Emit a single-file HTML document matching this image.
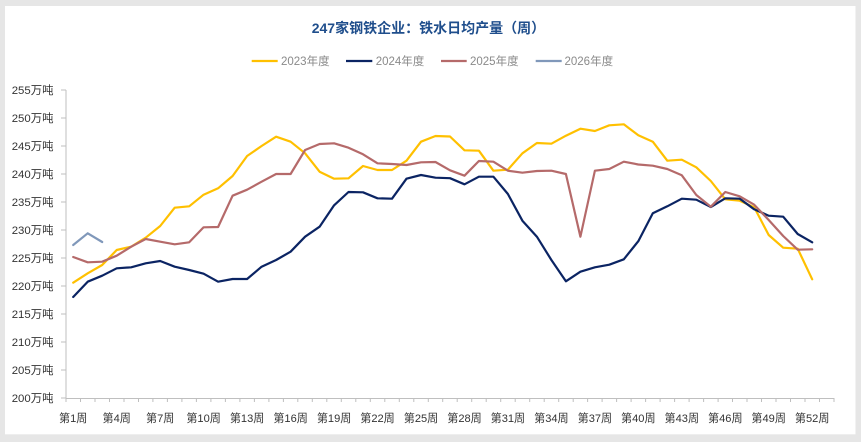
<!DOCTYPE html>
<html><head><meta charset="utf-8"><style>
html,body{margin:0;padding:0;background:#e6e6e6;}
svg{display:block;}
text{font-family:"Liberation Sans","Noto Sans CJK SC",sans-serif;}
</style></head><body>
<svg width="861" height="442" viewBox="0 0 861 442" xmlns="http://www.w3.org/2000/svg">
<rect x="0" y="0" width="861" height="442" fill="#e6e6e6"/>
<rect x="5" y="6" width="850.5" height="428.3" fill="#ffffff"/>
<text x="428.4" y="28" text-anchor="middle" dy="0.36em" font-size="14" font-weight="bold" fill="#1F4E8C">247家钢铁企业：铁水日均产量（周）</text>
<g font-size="11.5" fill="#8a8a8a">
<line x1="251.7" y1="61" x2="277.7" y2="61" stroke="#FFC000" stroke-width="2.2"/>
<text x="281" y="61" dy="0.36em">2023年度</text>
<line x1="346" y1="61" x2="372.3" y2="61" stroke="#0B2463" stroke-width="2.2"/>
<text x="375.7" y="61" dy="0.36em">2024年度</text>
<line x1="441" y1="61" x2="466.7" y2="61" stroke="#B56A6A" stroke-width="2.2"/>
<text x="470" y="61" dy="0.36em">2025年度</text>
<line x1="535.7" y1="61" x2="561.7" y2="61" stroke="#8098BA" stroke-width="2.2"/>
<text x="564.5" y="61" dy="0.36em">2026年度</text>
</g>
<g stroke="#bfbfbf" stroke-width="1" fill="none">
<line x1="66" y1="90" x2="66" y2="398.5"/>
<line x1="66" y1="398.5" x2="834" y2="398.5"/>
<path d="M61 90H66M61 118H66M61 146H66M61 174H66M61 202H66M61 230H66M61 258H66M61 286H66M61 314H66M61 342H66M61 370H66M61 398H66"/>
<path d="M66 398v4M80.5 398v4M95 398v4M109.5 398v4M124 398v4M138.5 398v4M152.9 398v4M167.4 398v4M181.9 398v4M196.4 398v4M210.9 398v4M225.4 398v4M239.9 398v4M254.4 398v4M268.9 398v4M283.4 398v4M297.8 398v4M312.3 398v4M326.8 398v4M341.3 398v4M355.8 398v4M370.3 398v4M384.8 398v4M399.3 398v4M413.8 398v4M428.3 398v4M442.7 398v4M457.2 398v4M471.7 398v4M486.2 398v4M500.7 398v4M515.2 398v4M529.7 398v4M544.2 398v4M558.7 398v4M573.2 398v4M587.6 398v4M602.1 398v4M616.6 398v4M631.1 398v4M645.6 398v4M660.1 398v4M674.6 398v4M689.1 398v4M703.6 398v4M718.1 398v4M732.5 398v4M747 398v4M761.5 398v4M776 398v4M790.5 398v4M805 398v4M819.5 398v4M834 398v4"/>
</g>
<g font-size="11.4" fill="#333333" text-anchor="end">
<text x="53.5" y="90" dy="0.36em">255万吨</text>
<text x="53.5" y="118" dy="0.36em">250万吨</text>
<text x="53.5" y="146" dy="0.36em">245万吨</text>
<text x="53.5" y="174" dy="0.36em">240万吨</text>
<text x="53.5" y="202" dy="0.36em">235万吨</text>
<text x="53.5" y="230" dy="0.36em">230万吨</text>
<text x="53.5" y="258" dy="0.36em">225万吨</text>
<text x="53.5" y="286" dy="0.36em">220万吨</text>
<text x="53.5" y="314" dy="0.36em">215万吨</text>
<text x="53.5" y="342" dy="0.36em">210万吨</text>
<text x="53.5" y="370" dy="0.36em">205万吨</text>
<text x="53.5" y="398" dy="0.36em">200万吨</text>
</g>
<g font-size="11.1" fill="#333333" text-anchor="middle">
<text x="73.2" y="418" dy="0.36em">第1周</text>
<text x="116.7" y="418" dy="0.36em">第4周</text>
<text x="160.2" y="418" dy="0.36em">第7周</text>
<text x="203.6" y="418" dy="0.36em">第10周</text>
<text x="247.1" y="418" dy="0.36em">第13周</text>
<text x="290.6" y="418" dy="0.36em">第16周</text>
<text x="334.1" y="418" dy="0.36em">第19周</text>
<text x="377.5" y="418" dy="0.36em">第22周</text>
<text x="421" y="418" dy="0.36em">第25周</text>
<text x="464.5" y="418" dy="0.36em">第28周</text>
<text x="507.9" y="418" dy="0.36em">第31周</text>
<text x="551.4" y="418" dy="0.36em">第34周</text>
<text x="594.9" y="418" dy="0.36em">第37周</text>
<text x="638.3" y="418" dy="0.36em">第40周</text>
<text x="681.8" y="418" dy="0.36em">第43周</text>
<text x="725.3" y="418" dy="0.36em">第46周</text>
<text x="768.7" y="418" dy="0.36em">第49周</text>
<text x="812.2" y="418" dy="0.36em">第52周</text>
</g>
<g fill="none" stroke-width="2.2" stroke-linejoin="round" stroke-linecap="round">
<polyline stroke="#FFC000" points="73.2,282.7 87.7,273.3 102.2,265 116.7,250 131.2,246.7 145.7,237.7 160.2,226 174.7,207.7 189.2,206.3 203.6,194.7 218.1,188.3 232.6,176 247.1,156 261.6,146 276.1,136.7 290.6,141.7 305.1,153.3 319.6,171.7 334.1,178.7 348.5,178.3 363,166 377.5,170 392,170 406.5,160.7 421,141.7 435.5,136 450,136.5 464.5,150.3 478.9,150.7 493.4,170.7 507.9,169.7 522.4,153.3 536.9,143 551.4,143.7 565.9,135.7 580.4,128.7 594.9,131 609.3,125.3 623.8,124.3 638.3,135.3 652.8,141.7 667.3,160.7 681.8,159.7 696.3,167.3 710.8,181 725.3,199.3 739.7,200.7 754.2,207.3 768.7,235 783.2,247.7 797.7,248.7 812.2,279.3"/>
<polyline stroke="#0B2463" points="73.2,297 87.7,281.7 102.2,275.7 116.7,268.3 131.2,267.3 145.7,263.3 160.2,261 174.7,266.7 189.2,270 203.6,273.7 218.1,281.7 232.6,279 247.1,279 261.6,266.7 276.1,260 290.6,251.7 305.1,236.7 319.6,226.7 334.1,205.3 348.5,192 363,192.3 377.5,198.3 392,198.7 406.5,178.7 421,175 435.5,177.7 450,178.2 464.5,184.3 478.9,176.7 493.4,176.7 507.9,194 522.4,220.7 536.9,236.7 551.4,260 565.9,281.3 580.4,271.7 594.9,267.3 609.3,264.7 623.8,259.3 638.3,241.2 652.8,213.3 667.3,206.3 681.8,198.7 696.3,199.7 710.8,207 725.3,198.3 739.7,198.7 754.2,209.3 768.7,215.7 783.2,216.7 797.7,234 812.2,242.3"/>
<polyline stroke="#B56A6A" points="73.2,257 87.7,262.3 102.2,261.7 116.7,255.7 131.2,246.7 145.7,239 160.2,241.7 174.7,244.3 189.2,242.3 203.6,227.3 218.1,227 232.6,195.7 247.1,189.7 261.6,181.7 276.1,174 290.6,174 305.1,150 319.6,144 334.1,143.3 348.5,147.7 363,154.3 377.5,163.3 392,164 406.5,165 421,162.3 435.5,162 450,170.3 464.5,175.7 478.9,161 493.4,161.7 507.9,170.7 522.4,172.7 536.9,171 551.4,170.7 565.9,174 580.4,236.7 594.9,170.7 609.3,169 623.8,161.7 638.3,164.5 652.8,165.7 667.3,169 681.8,175.3 696.3,195 710.8,206.7 725.3,192 739.7,196.3 754.2,204.7 768.7,220 783.2,236 797.7,249.7 812.2,249.3"/>
<polyline stroke="#8098BA" points="73.2,245 87.7,233.3 102.2,242"/>
</g>
</svg>
</body></html>
